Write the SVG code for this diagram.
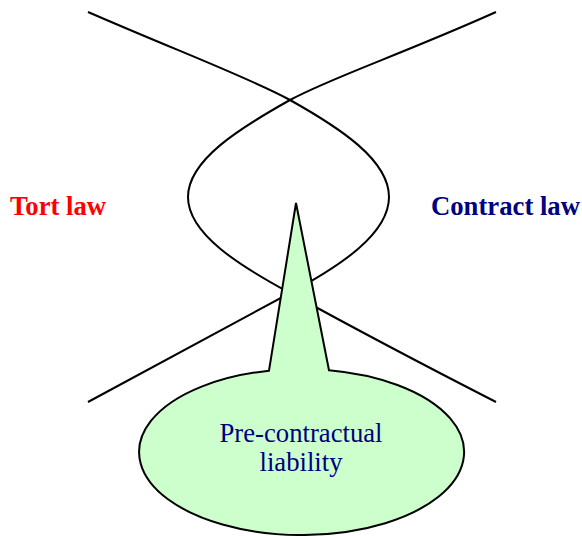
<svg xmlns="http://www.w3.org/2000/svg" width="582" height="536" viewBox="0 0 582 536">
<style>
.curve{fill:none;stroke:#000;stroke-width:2}
.lbl{font-family:"Liberation Serif","Times New Roman",serif;font-size:26.7px;font-weight:bold}
.call{fill:#CCFFCC;stroke:#000;stroke-width:2;stroke-linejoin:miter}
.ctext{font-family:"Liberation Serif","Times New Roman",serif;font-size:26.7px;fill:#000080;text-anchor:middle}
</style>
<rect width="582" height="536" fill="#fff"/>
<g id="connectors">
<path class="curve" d="M88,12 C180,52 250,78 290,100 C340,128 389,160 389,197 C389,234 340,266 290,293 C250,315 180,352 88,402"/>
<path class="curve" d="M496,12 C400,55 330,78 290,100 C240,128 188,160 188,197 C188,234 240,266 290,293 C330,315 410,358 496,402"/>
</g>
<g id="tort">
<text class="lbl" x="10" y="215" fill="#FF0000">Tort law</text>
</g>
<g id="contract">
<text class="lbl" x="431" y="215" fill="#000080">Contract law</text>
</g>
<g id="precontractual">
<path class="call" d="M269,370.7 L296,203 L329,370.2 A162.5,83 0 1 1 269,370.7 Z"/>
<text class="ctext" x="301" y="442">Pre-contractual</text>
<text class="ctext" x="301" y="471">liability</text>
</g>
</svg>
